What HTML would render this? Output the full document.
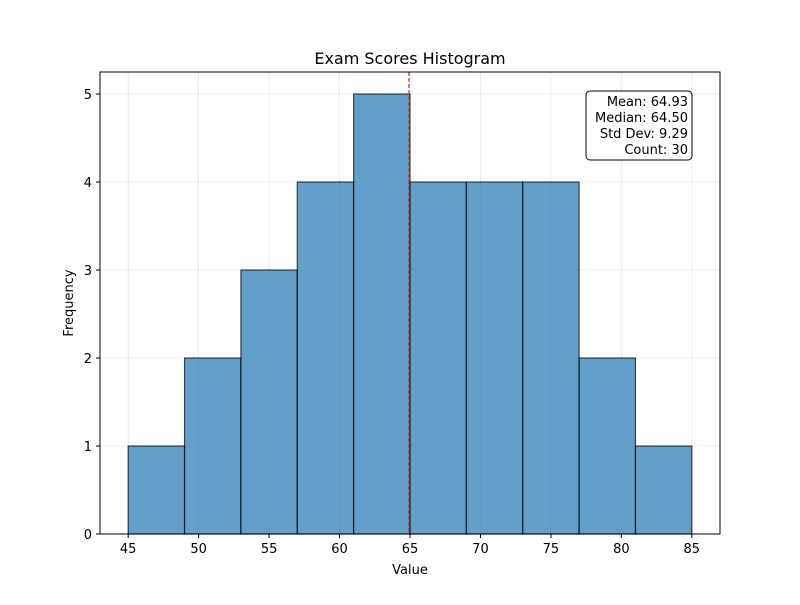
<!DOCTYPE html>
<html><head><meta charset="utf-8"><style>
body{margin:0;background:#fff;font-family:"Liberation Sans","DejaVu Sans",sans-serif;}
</style></head><body>
<svg id="chart" width="800" height="600" xmlns="http://www.w3.org/2000/svg" font-family="DejaVu Sans, Liberation Sans, sans-serif">
<rect width="800" height="600" fill="#fff"/>
<g id="grid"></g>
<g id="bars"></g>
<g id="axes"></g>
<text x="410" y="64" text-anchor="middle" font-size="16">Exam Scores Histogram</text>
<text x="410" y="574" text-anchor="middle" font-size="13">Value</text>
<text x="73" y="303" text-anchor="middle" font-size="13" transform="rotate(-90 73 303)">Frequency</text>
<g>
<rect x="586" y="91" width="106" height="69" rx="4" fill="#fff" stroke="#000" stroke-width="1"/>
<text x="688" y="106" text-anchor="end" font-size="13">Mean: 64.93</text>
<text x="688" y="122" text-anchor="end" font-size="13">Median: 64.50</text>
<text x="688" y="138" text-anchor="end" font-size="13">Std Dev: 9.29</text>
<text x="688" y="154" text-anchor="end" font-size="13">Count: 30</text>
</g>
</svg>
<script>
const binEdges=[45,49,53,57,61,65,69,73,77,81,85];
const counts=[1,2,3,4,5,4,4,4,2,1];
const xTicks=[45,50,55,60,65,70,75,80,85];
const yTicks=[0,1,2,3,4,5];
const meanValue=64.93;
const L=100,R=720,T=72,B=534,xMin=43,xMax=87,yMax=5.25;
const sx=v=>L+(v-xMin)/(xMax-xMin)*(R-L);
const sy=v=>B-v/yMax*(B-T);
const NS="http://www.w3.org/2000/svg";
function mk(tag,attrs,parent,txt){const e=document.createElementNS(NS,tag);for(const k in attrs)e.setAttribute(k,attrs[k]);if(txt!==undefined)e.textContent=txt;parent.appendChild(e);return e;}
const grid=document.getElementById('grid'),bars=document.getElementById('bars'),axes=document.getElementById('axes');
xTicks.forEach(t=>{const l=mk('line',{x1:sx(t),x2:sx(t),y1:T,y2:B,stroke:'#b0b0b0','stroke-opacity':0.3,'stroke-width':0.8},grid);

});
yTicks.forEach(t=>{const l=mk('line',{x1:L,x2:R,y1:sy(t),y2:sy(t),stroke:'#b0b0b0','stroke-opacity':0.3,'stroke-width':0.8},grid);

});
counts.forEach((c,i)=>{const x0=sx(binEdges[i]),x1=sx(binEdges[i+1]);
const r=mk('rect',{x:x0,y:sy(c),width:x1-x0,height:sy(0)-sy(c),fill:'#1f77b4','fill-opacity':0.7,stroke:'#000','stroke-opacity':0.7,'stroke-width':1.2},bars);

});
const ml=mk('line',{x1:sx(meanValue),x2:sx(meanValue),y1:T,y2:B,stroke:'#d62728','stroke-width':1.2,'stroke-dasharray':'4,2'},bars);


mk('rect',{x:L,y:T,width:R-L,height:B-T,fill:'none',stroke:'#000','stroke-width':1},axes);
xTicks.forEach(t=>{mk('line',{x1:sx(t),x2:sx(t),y1:B,y2:B+4,stroke:'#000'},axes);
const tx=mk('text',{x:sx(t),y:B+19,'text-anchor':'middle','font-size':13},axes,String(t));

});
yTicks.forEach(t=>{mk('line',{x1:L-4,x2:L,y1:sy(t),y2:sy(t),stroke:'#000'},axes);
const tx=mk('text',{x:L-8,y:sy(t)+5,'text-anchor':'end','font-size':13},axes,String(t));

});
</script>
</body></html>
